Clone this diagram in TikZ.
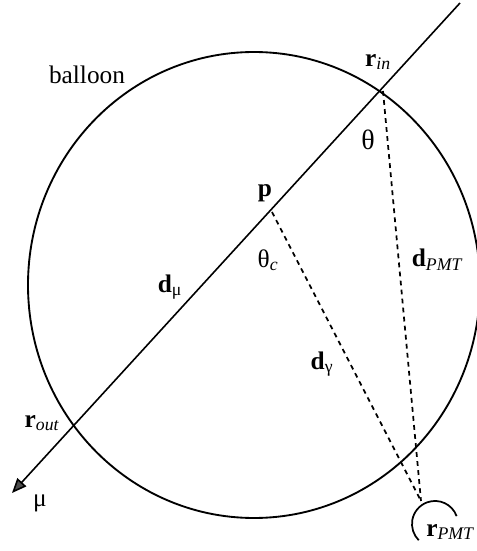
\documentclass[tikz,border=0pt]{standalone}
\usepackage{fontspec}
\setmainfont{Liberation Serif}
\usetikzlibrary{arrows.meta}
\begin{document}
\begin{tikzpicture}[x=0.75pt,y=0.75pt,
  lbl/.style={font=\fontsize{19}{22}\selectfont, inner sep=0pt},
  dashline/.style={line width=1.3pt, dash pattern=on 3.6pt off 3.2pt},
  mainline/.style={line width=1.2pt},
  balloonline/.style={line width=1.4pt}]
\useasboundingbox (0,0) rectangle (477,551);
% key points
\coordinate (top) at (460,548);
\coordinate (rin) at (383,460);
\coordinate (p) at (272,339);
\coordinate (rout) at (75,126);
\coordinate (tip) at (12,58);
\coordinate (rpmt) at (421,50);
\coordinate (ctr) at (254,266);
\coordinate (arcstart) at (456.6,34.9);
% balloon
\draw[balloonline] (ctr) ellipse [x radius=226, y radius=233];
% muon track
\draw[mainline, -{Triangle[length=11pt,width=9pt,fill=black!70]}] (top) -- (tip);
% photon paths
\draw[dashline] (p) -- (rpmt);
\draw[dashline] (rin) -- (rpmt);
% PMT
\draw[line width=1.3pt] (arcstart) arc[start angle=20, end angle=225, radius=23];
% labels
\node[lbl] (lballoon) at (87,476) {balloon};
\node[lbl] (lrin) at (378,489) {\textbf{r}\textsubscript{\itshape in}};
\node[lbl, font=\fontsize{21}{24}\selectfont] (ltheta) at (368,411) {θ};
\node[lbl] (lp) at (265,358) {\textbf{p}};
\node[lbl] (lthetac) at (268,291) {θ\textsubscript{\itshape c}};
\node[lbl] (ldmu) at (170,264) {\textbf{d}\textsubscript{μ}};
\node[lbl] (ldgamma) at (322,187) {\textbf{d}\textsubscript{γ}};
\node[lbl] (ldpmt) at (437,291) {\textbf{d}\textsubscript{\itshape PMT}};
\node[lbl] (lrout) at (42,128) {\textbf{r}\textsubscript{\itshape out}};
\node[lbl] (lmu) at (40,48) {μ};
\node[lbl, anchor=west] (lrpmt) at (426,19) {\textbf{r}\textsubscript{\itshape PMT}};
\end{tikzpicture}
\end{document}
